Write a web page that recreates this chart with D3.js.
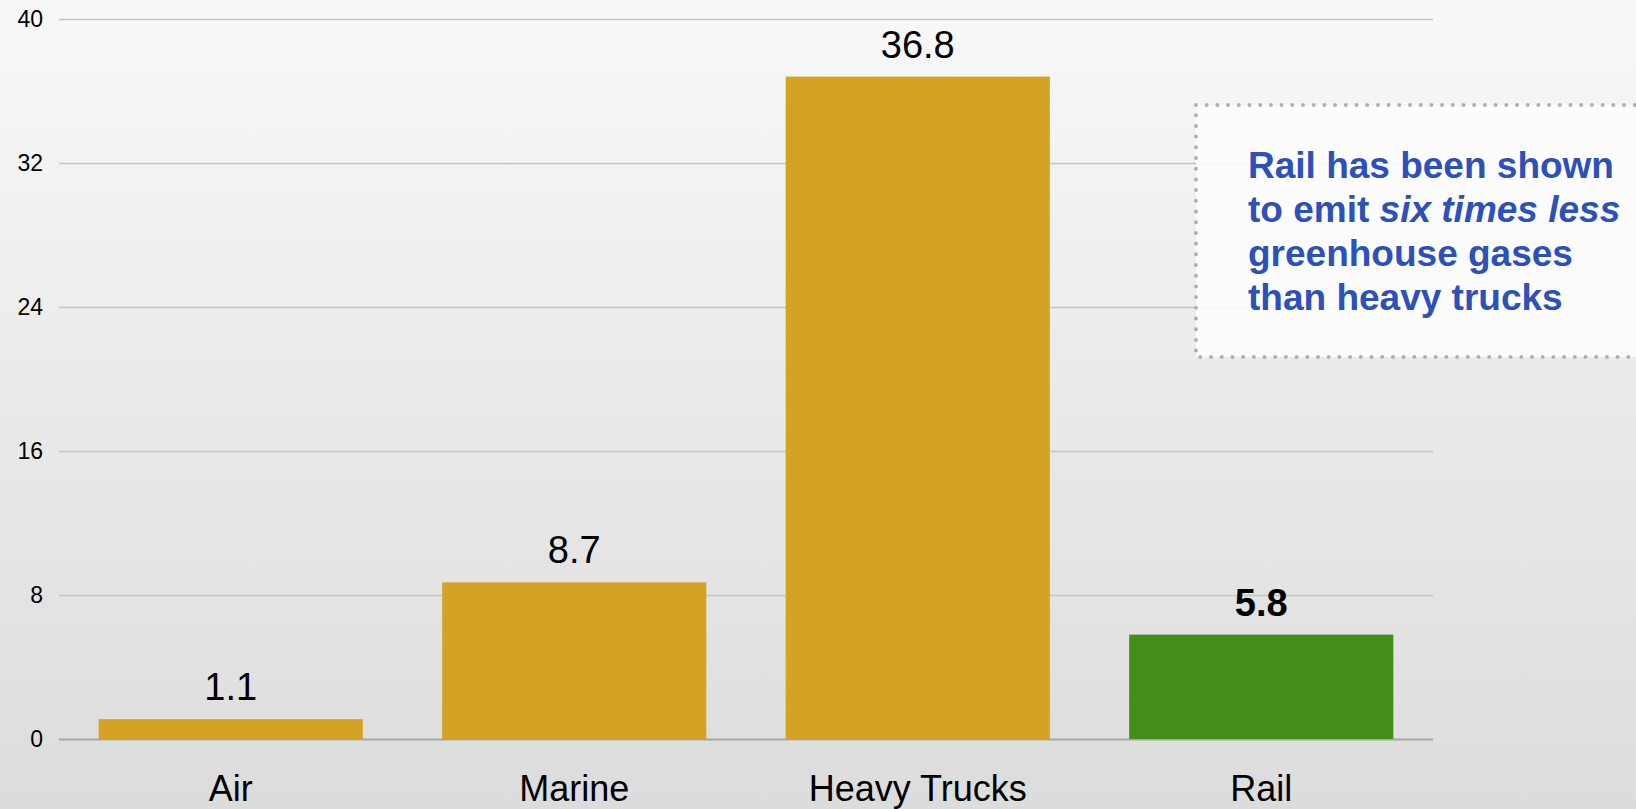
<!DOCTYPE html>
<html>
<head>
<meta charset="utf-8">
<script src="https://cdn.jsdelivr.net/npm/d3@7"></script>
<style>
  html, body { margin: 0; padding: 0; }
  body { width: 1636px; height: 809px; overflow: hidden; }
  svg { display: block; font-family: "Liberation Sans", Arial, sans-serif; }
</style>
</head>
<body>
<svg></svg>
<script>
// Chart data
const categories = ["Air", "Marine", "Heavy Trucks", "Rail"];
const values = [1.1, 8.7, 36.8, 5.8];
const yTicks = [0, 8, 16, 24, 32, 40];
const highlight = "Rail";
const noteLines = [
    [{ t: "Rail has been shown" }],
    [{ t: "to emit " }, { t: "six times less", italic: true }],
    [{ t: "greenhouse gases" }],
    [{ t: "than heavy trucks" }]
];

const width = 1636;
const height = 809;
const margin = { top: 19, right: 203, bottom: 70, left: 59 };

const svg = d3.select("svg")
    .attr("width", width)
    .attr("height", height);

// Background gradient
const defs = svg.append("defs");
const grad = defs.append("linearGradient")
    .attr("id", "bg")
    .attr("x1", 0).attr("y1", 0).attr("x2", 0).attr("y2", 1);
grad.append("stop").attr("offset", "0%").attr("stop-color", "#f8f8f8");
grad.append("stop").attr("offset", "100%").attr("stop-color", "#dcdcdc");

svg.append("rect")
    .attr("width", width)
    .attr("height", height)
    .attr("fill", "url(#bg)");

// Scales
const x = d3.scaleBand()
    .domain(categories)
    .range([margin.left, width - margin.right])
    .paddingInner(0.231)
    .paddingOuter(0.1155);

const y = d3.scaleLinear()
    .domain([0, 40])
    .range([height - margin.bottom, margin.top]);

// Gridlines + y labels
const yAxis = svg.append("g")
    .attr("transform", `translate(${margin.left},0)`)
    .call(d3.axisLeft(y)
        .tickValues(yTicks)
        .tickSize(-(width - margin.left - margin.right))
        .tickPadding(16));
yAxis.select(".domain").remove();
yAxis.selectAll(".tick line")
    .attr("stroke", d => d === 0 ? "#a6a6a6" : "#c4c4c4")
    .attr("stroke-width", d => d === 0 ? 2 : 1.3);
yAxis.selectAll(".tick text")
    .attr("fill", "#000")
    .style("font-size", "23px")
    .style("font-family", "Liberation Sans, Arial, sans-serif");

// Bars
const data = categories.map((c, i) => ({ cat: c, value: values[i] }));

svg.append("g")
    .selectAll("rect")
    .data(data)
    .join("rect")
    .attr("x", d => x(d.cat))
    .attr("y", d => y(d.value))
    .attr("width", x.bandwidth())
    .attr("height", d => y(0) - y(d.value))
    .attr("fill", d => d.cat === highlight ? "#438d1a" : "#d4a224");

// Value labels
svg.append("g")
    .selectAll("text")
    .data(data)
    .join("text")
    .attr("x", d => x(d.cat) + x.bandwidth() / 2)
    .attr("y", d => y(d.value) - 19)
    .attr("text-anchor", "middle")
    .style("font-size", "38px")
    .style("font-weight", d => d.cat === highlight ? "bold" : "normal")
    .attr("fill", "#000")
    .text(d => d.value.toFixed(1));

// Category labels
const xAxis = svg.append("g")
    .attr("transform", `translate(0,${y(0)})`)
    .call(d3.axisBottom(x).tickSize(0).tickPadding(0));
xAxis.select(".domain").remove();
xAxis.selectAll(".tick text")
    .attr("dy", 0)
    .attr("y", 62)
    .attr("fill", "#000")
    .style("font-size", "36px")
    .style("font-family", "Liberation Sans, Arial, sans-serif");

// Annotation box
const note = svg.append("g");
note.append("rect")
    .attr("x", 1196)
    .attr("y", 105)
    .attr("width", 470)
    .attr("height", 252)
    .attr("fill", "rgba(253,253,253,0.9)")
    .attr("stroke", "#b0b0b0")
    .attr("stroke-width", 4)
    .attr("stroke-linecap", "round")
    .attr("stroke-dasharray", "0 10.7");

const noteText = note.append("text")
    .attr("fill", "#2d50b9")
    .style("font-size", "37px")
    .style("font-weight", "bold");

noteLines.forEach((parts, i) => {
    parts.forEach((p, j) => {
        const span = noteText.append("tspan")
            .style("font-style", p.italic ? "italic" : "normal")
            .text(p.t);
        if (j === 0) span.attr("x", 1248).attr("y", 178 + i * 44);
    });
});
</script>
</body>
</html>
